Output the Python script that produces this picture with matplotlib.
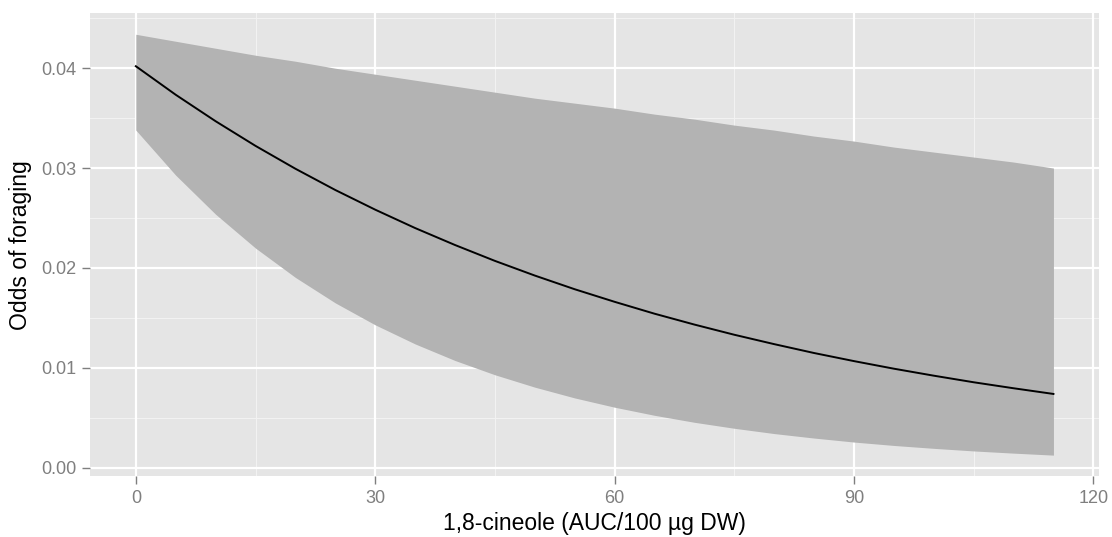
import numpy as np
import matplotlib
matplotlib.use('Agg')
import matplotlib.pyplot as plt

# Values
cineole = [0, 5, 10, 15, 20, 25, 30, 35, 40, 45, 50, 55, 60,
           65, 70, 75, 80, 85, 90, 95, 100, 105, 110, 115]
odds = [0.04020, 0.03734, 0.03469, 0.03222, 0.02993, 0.02780, 0.02583, 0.02399,
        0.02229, 0.02070, 0.01923, 0.01786, 0.01660, 0.01541, 0.01432, 0.01330,
        0.01236, 0.01147, 0.01066, 0.00990, 0.00920, 0.00854, 0.00794, 0.00737]
odds_upper = [0.0434, 0.0427, 0.0420, 0.0413, 0.0407, 0.0400, 0.0394, 0.0388,
              0.0382, 0.0376, 0.0370, 0.0365, 0.0360, 0.0354, 0.0349, 0.0343,
              0.0338, 0.0332, 0.0327, 0.0321, 0.0316, 0.0311, 0.0306, 0.0300]
odds_lower = [0.03380, 0.02928, 0.02537, 0.02198, 0.01904, 0.01649, 0.01429, 0.01238,
              0.01072, 0.00929, 0.00805, 0.00697, 0.00604, 0.00523, 0.00453, 0.00393,
              0.00340, 0.00295, 0.00255, 0.00221, 0.00192, 0.00166, 0.00144, 0.00124]

x_ticks = [0, 30, 60, 90, 120]
y_ticks = [0.00, 0.01, 0.02, 0.03, 0.04]
y_tick_labels = ['0.00', '0.01', '0.02', '0.03', '0.04']

plt.rcParams['font.family'] = ['Liberation Sans', 'DejaVu Sans']

fig = plt.figure(figsize=(11.12, 5.37), dpi=100)
ax = fig.add_axes([0.0809, 0.1136, 0.9077, 0.8616])
ax.set_facecolor('#E5E5E5')

# ggplot-like grid: white majors, faint minors
for xv in [15, 45, 75, 105]:
    ax.axvline(xv, color='#F2F2F2', linewidth=0.8, zorder=0)
for yv in [0.005, 0.015, 0.025, 0.035, 0.045]:
    ax.axhline(yv, color='#F2F2F2', linewidth=0.8, zorder=0)
for xv in x_ticks:
    ax.axvline(xv, color='white', linewidth=1.6, zorder=0.5)
for yv in y_ticks:
    ax.axhline(yv, color='white', linewidth=1.6, zorder=0.5)

ax.fill_between(cineole, odds_lower, odds_upper, color='#B3B3B3', linewidth=0, zorder=2)
ax.plot(cineole, odds, color='black', linewidth=1.4, zorder=3)

ax.set_xlim(-5.75, 120.75)
ax.set_ylim(-0.00085, 0.0455)
ax.set_xticks(x_ticks)
ax.set_xticklabels([str(v) for v in x_ticks])
ax.set_yticks(y_ticks)
ax.set_yticklabels(y_tick_labels)
ax.tick_params(colors='#7F7F7F', labelsize=13, length=6, width=1, pad=4)

for s in ax.spines.values():
    s.set_visible(False)

ax.set_xlabel('1,8-cineole (AUC/100 µg DW)', fontsize=16.5, labelpad=4)
ax.set_ylabel('Odds of foraging', fontsize=16.5, labelpad=6)

plt.savefig('out.png', dpi=100)
